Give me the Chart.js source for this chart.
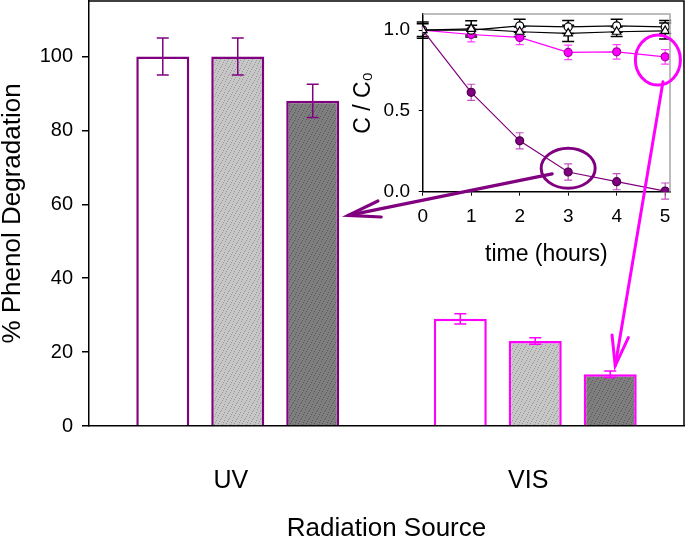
<!DOCTYPE html>
<html>
<head>
<meta charset="utf-8">
<script src="https://cdn.jsdelivr.net/npm/chart.js@4"></script>
<style>
  html, body { margin: 0; padding: 0; background: #fff; }
  #wrap { position: relative; width: 685px; height: 539px; }
  canvas { position: absolute; top: 0; }
</style>
</head>
<body>
<div id="wrap">
  <canvas id="main" width="685" height="539" style="left:0"></canvas>
  <canvas id="inset" width="345" height="280" style="left:340px"></canvas>
  <canvas id="overlay" width="685" height="539" style="left:0;pointer-events:none"></canvas>
</div>
<script>
// ---------- main bar chart data ----------
const categories = ['UV', 'VIS'];
const whiteVals = [100, 29];
const lightVals = [100, 23];
const darkVals  = [88, 14];
const whiteErr  = [5, 1.4];
const lightErr  = [5, 0.9];
const darkErr   = [4.5, 0.9];
const mainYTickStep = 20;

// ---------- inset line chart data ----------
const hours      = [0, 1, 2, 3, 4, 5];
const ctrlTri    = [1.0, 1.008, 0.99, 0.98, 0.99, 0.995];
const ctrlTriErr = [0.05, 0.05, 0.03, 0.05, 0.03, 0.05];
const ctrlCirc   = [1.0, 1.0, 1.027, 1.02, 1.027, 1.02];
const ctrlCircErr= [0.04, 0.03, 0.04, 0.04, 0.04, 0.04];
const visCirc    = [1.0, 0.973, 0.955, 0.862, 0.866, 0.835];
const visErr     = [0, 0.045, 0.045, 0.045, 0.045, 0.045];
const uvCirc     = [1.0, 0.615, 0.315, 0.122, 0.062, 0.004];
const uvErr      = [0, 0.05, 0.05, 0.05, 0.05, 0.05];
const insetYTicks = [0, 0.5, 1.0];

const PURPLE = '#800080';
const MAGENTA = '#ff00ff';
const FONT = "'Liberation Sans', Arial, Helvetica, sans-serif";
Chart.defaults.font.family = FONT;
Chart.defaults.color = '#000';

const mainCanvas = document.getElementById('main');
const mctx = mainCanvas.getContext('2d');
function makePattern(base, dot) {
  const c = document.createElement('canvas');
  c.width = 8; c.height = 8;
  const g = c.getContext('2d');
  g.fillStyle = base; g.fillRect(0, 0, 8, 8);
  g.fillStyle = dot;
  [[1,1],[5,2],[3,5],[7,6],[0,4],[6,0],[2,7],[4,3]].forEach(p => g.fillRect(p[0], p[1], 1, 1));
  return mctx.createPattern(c, 'repeat');
}
const lightPat = makePattern('#c6c6c6', '#9a9a9a');
const darkPat = makePattern('#7e7e7e', '#5a5a5a');
const catColors = [PURPLE, MAGENTA];

const barErrs = [whiteErr, lightErr, darkErr];
const barVals = [whiteVals, lightVals, darkVals];

function fixSize(prop, val) {
  return function (s) {
    s[prop] = val;
    s.paddingTop = 0; s.paddingBottom = 0; s.paddingLeft = 0; s.paddingRight = 0;
  };
}

const mainPlugin = {
  id: 'mainExtras',
  afterDatasetsDraw(chart) {
    const ctx = chart.ctx, ys = chart.scales.y;
    ctx.save();
    ctx.lineWidth = 1.5;
    barVals.forEach((vals, di) => {
      const meta = chart.getDatasetMeta(di);
      meta.data.forEach((el, j) => {
        const v = vals[j], e = barErrs[di][j];
        const yt = ys.getPixelForValue(v + e), yb = ys.getPixelForValue(v - e);
        ctx.strokeStyle = catColors[j];
        ctx.beginPath();
        ctx.moveTo(el.x, yt); ctx.lineTo(el.x, yb);
        ctx.moveTo(el.x - 6, yt); ctx.lineTo(el.x + 6, yt);
        ctx.moveTo(el.x - 6, yb); ctx.lineTo(el.x + 6, yb);
        ctx.stroke();
      });
    });
    const a = chart.chartArea;
    ctx.strokeStyle = '#000';
    ctx.lineWidth = 1.5;
    ctx.beginPath();
    ctx.moveTo(a.left, a.top); ctx.lineTo(a.right, a.top); ctx.lineTo(a.right, a.bottom);
    ctx.stroke();
    ctx.restore();
  }
};

const mainChart = new Chart(mainCanvas, {
  type: 'bar',
  data: {
    labels: categories,
    datasets: [
      { data: whiteVals, backgroundColor: '#ffffff', borderColor: catColors, borderWidth: 2.5 },
      { data: lightVals, backgroundColor: lightPat, borderColor: catColors, borderWidth: 2.5 },
      { data: darkVals, backgroundColor: darkPat, borderColor: catColors, borderWidth: 2.5 }
    ]
  },
  options: {
    responsive: false, animation: false, devicePixelRatio: 1,
    categoryPercentage: 0.756, barPercentage: 0.707,
    layout: { padding: { top: 1, right: 1, left: 0, bottom: 0 } },
    plugins: { legend: { display: false }, tooltip: { enabled: false } },
    scales: {
      x: {
        grid: { display: false, drawTicks: false },
        border: { display: true, color: '#000', width: 1.5 },
        ticks: { font: { size: 25 }, color: '#000', padding: 40, labelOffset: -7, maxRotation: 0 },
        title: { display: true, text: 'Radiation Source', font: { size: 26, lineHeight: 1 }, color: '#000', padding: { top: 0, bottom: -3 } },
        afterFit: fixSize('height', 113)
      },
      y: {
        min: 0, max: 115,
        ticks: { stepSize: mainYTickStep, includeBounds: false, font: { size: 20 }, color: '#000', padding: 9 },
        grid: { drawOnChartArea: false, drawTicks: true, tickLength: 7, color: '#000', lineWidth: 1.5 },
        border: { display: true, color: '#000', width: 1.5 },
        title: { display: true, text: '% Phenol Degradation', font: { size: 26, lineHeight: 1 }, color: '#000', padding: 0 },
        afterFit: fixSize('width', 89)
      }
    }
  },
  plugins: [mainPlugin]
});

// ---------- inset ----------
const insetSeries = [
  { vals: ctrlTri, errs: ctrlTriErr, line: '#000', err: '#000', cap: 6, style: 'triangle', fill: '#fff', border: '#000', r: 5 },
  { vals: ctrlCirc, errs: ctrlCircErr, line: '#000', err: '#000', cap: 6, style: 'circle', fill: '#fff', border: '#000', r: 4 },
  { vals: visCirc, errs: visErr, line: MAGENTA, err: '#ff40ff', cap: 4, style: 'circle', fill: MAGENTA, border: '#a000a0', r: 4 },
  { vals: uvCirc, errs: uvErr, line: PURPLE, err: '#c050c0', cap: 4, style: 'circle', fill: PURPLE, border: '#4a004a', r: 4 }
];

const insetPlugin = {
  id: 'insetExtras',
  beforeDatasetsDraw(chart) {
    const ctx = chart.ctx, xs = chart.scales.x, ys = chart.scales.y;
    ctx.save();
    insetSeries.slice().reverse().forEach(s => {
      ctx.strokeStyle = s.err;
      ctx.lineWidth = s.err === '#000' ? 1.5 : 1.2;
      hours.forEach((h, i) => {
        const e = s.errs[i];
        if (!e) return;
        const x = xs.getPixelForValue(h);
        const yt = ys.getPixelForValue(s.vals[i] + e), yb = ys.getPixelForValue(s.vals[i] - e);
        ctx.beginPath();
        ctx.moveTo(x, yt); ctx.lineTo(x, yb);
        ctx.moveTo(x - s.cap, yt); ctx.lineTo(x + s.cap, yt);
        ctx.moveTo(x - s.cap, yb); ctx.lineTo(x + s.cap, yb);
        ctx.stroke();
      });
    });
    ctx.restore();
  },
  afterDraw(chart) {
    const ctx = chart.ctx, a = chart.chartArea;
    ctx.save();
    ctx.strokeStyle = '#a8a8a8';
    ctx.lineWidth = 1.5;
    ctx.beginPath();
    ctx.moveTo(a.left, a.top); ctx.lineTo(a.right, a.top); ctx.lineTo(a.right, a.bottom);
    ctx.stroke();
    ctx.restore();
  }
};

const insetChart = new Chart(document.getElementById('inset'), {
  type: 'line',
  data: {
    datasets: insetSeries.map(s => ({
      data: hours.map((h, i) => ({ x: h, y: s.vals[i] })),
      borderColor: s.line, borderWidth: 1.2,
      pointStyle: s.style, pointRadius: s.r,
      pointBackgroundColor: s.fill, pointBorderColor: s.border, pointBorderWidth: 1.2,
      tension: 0, fill: false
    }))
  },
  options: {
    responsive: false, animation: false, devicePixelRatio: 1,
    layout: { padding: { top: 14, right: 15, left: 0, bottom: 0 } },
    plugins: { legend: { display: false }, tooltip: { enabled: false } },
    scales: {
      x: {
        type: 'linear', min: 0, max: 5.1,
        ticks: { stepSize: 1, includeBounds: false, font: { size: 19 }, color: '#000', padding: 9.5 },
        grid: { drawOnChartArea: false, drawTicks: true, tickLength: 4, color: '#000', lineWidth: 1 },
        border: { display: true, color: '#000', width: 1.5 },
        title: { display: true, text: 'time (hours)', font: { size: 23, lineHeight: 1.2 }, color: '#000', padding: { top: 0, bottom: 12 } },
        afterFit: fixSize('height', 88.3)
      },
      y: {
        min: 0, max: 1.1,
        afterBuildTicks(s) { s.ticks = insetYTicks.map(v => ({ value: v })); },
        ticks: { font: { size: 19 }, color: '#000', padding: 8.7, callback: v => Number(v).toFixed(1) },
        grid: { drawOnChartArea: false, drawTicks: true, tickLength: 4, color: '#000', lineWidth: 1 },
        border: { display: true, color: '#000', width: 1.5 },
        title: { display: true, text: 'C / C\u2080', font: { size: 23, lineHeight: 1 }, color: '#000', padding: { top: 12.5, bottom: 0 } },
        afterFit: fixSize('width', 82.7)
      }
    }
  },
  plugins: [insetPlugin]
});

// ---------- annotations (ellipses + arrows) ----------
(function drawAnnotations() {
  const ctx = document.getElementById('overlay').getContext('2d');
  const off = 340;
  const ix = v => insetChart.scales.x.getPixelForValue(v) + off;
  const iy = v => insetChart.scales.y.getPixelForValue(v);
  const my = v => mainChart.scales.y.getPixelForValue(v);
  const uvDark = mainChart.getDatasetMeta(2).data[0];
  const visDark = mainChart.getDatasetMeta(2).data[1];

  function arrow(x0, y0, x1, y1, color, lw, len, ang) {
    ctx.strokeStyle = color; ctx.lineWidth = lw;
    ctx.lineCap = 'round'; ctx.lineJoin = 'miter';
    ctx.beginPath(); ctx.moveTo(x0, y0); ctx.lineTo(x1, y1); ctx.stroke();
    const a = Math.atan2(y0 - y1, x0 - x1);
    ctx.beginPath();
    ctx.moveTo(x1 + len * Math.cos(a + ang), y1 + len * Math.sin(a + ang));
    ctx.lineTo(x1, y1);
    ctx.lineTo(x1 + len * Math.cos(a - ang), y1 + len * Math.sin(a - ang));
    ctx.stroke();
  }
  function ellipse(cx, cy, rx, ry, color, lw) {
    ctx.strokeStyle = color; ctx.lineWidth = lw;
    ctx.beginPath(); ctx.ellipse(cx, cy, rx, ry, 0, 0, Math.PI * 2); ctx.stroke();
  }
  ellipse(ix(3), iy(0.145), 27, 20, PURPLE, 3);
  arrow(ix(2.67), iy(0.11), uvDark.x + uvDark.width / 2 + 9, my(57), PURPLE, 3.2, 33, 0.25);
  ellipse(ix(4.85), iy(0.815), 22.5, 25, MAGENTA, 3);
  arrow(ix(4.955), iy(0.68), visDark.x + 5, my(16.3), MAGENTA, 3, 31, 0.27);
})();
</script>
</body>
</html>
